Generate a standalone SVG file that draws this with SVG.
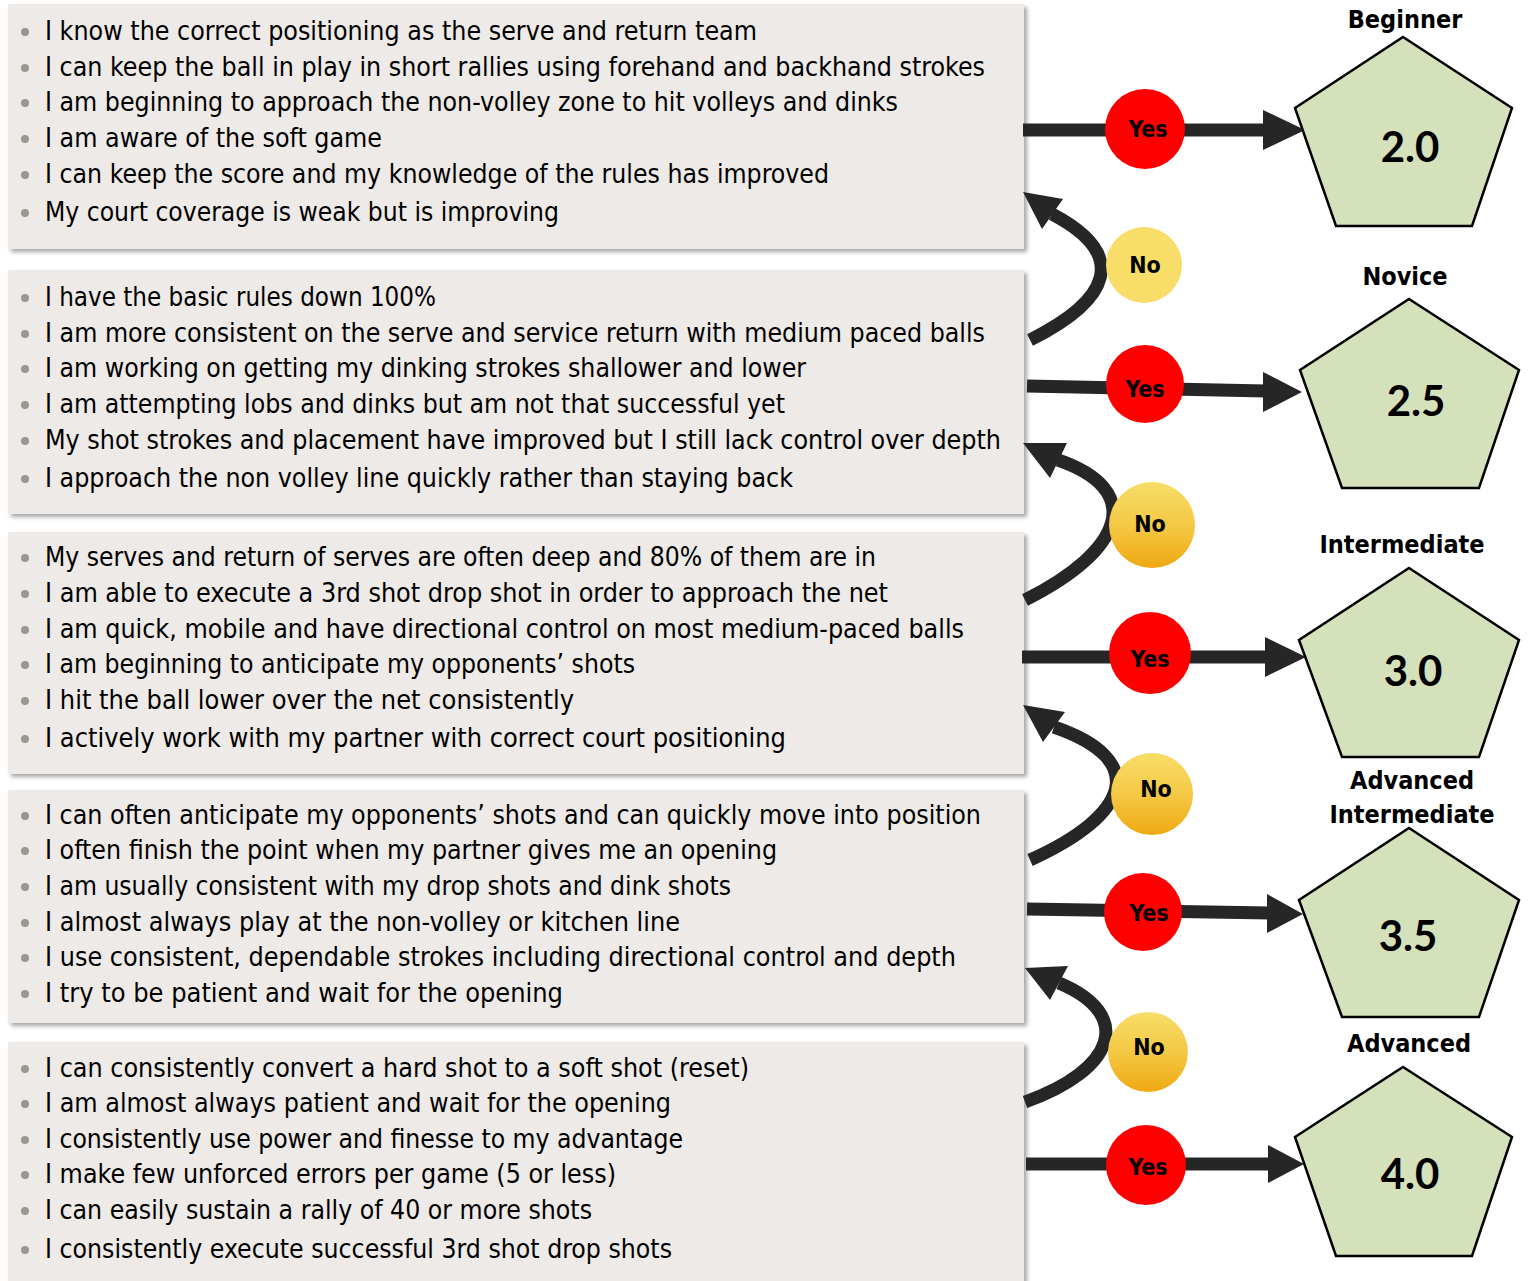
<svg xmlns="http://www.w3.org/2000/svg" width="1530" height="1281" viewBox="0 0 1530 1281">
<defs>
<filter id="sh" x="-5%" y="-5%" width="110%" height="115%">
<feDropShadow dx="3" dy="3" stdDeviation="2" flood-color="#000" flood-opacity="0.35"/>
</filter>
<linearGradient id="gold" x1="0" y1="0" x2="0" y2="1">
<stop offset="0" stop-color="#f8dd68"/>
<stop offset="0.5" stop-color="#f4c945"/>
<stop offset="1" stop-color="#efa812"/>
</linearGradient>
</defs>
<style>
.box{fill:#edeae7;filter:url(#sh)}
.t{font-family:"DejaVu Sans Condensed","DejaVu Sans",sans-serif;font-size:26px;fill:#000}
.b{fill:#9b968f}
.ln{fill:none;stroke:#262626;stroke-width:13}
.hd{fill:#262626}
.yes{fill:#ff0000}
.no1{fill:#f8dd68}
.no{fill:url(#gold)}
.ct{font-family:"DejaVu Sans Condensed","DejaVu Sans",sans-serif;font-size:23px;font-weight:bold;fill:#000;text-anchor:middle}
.pg{fill:#d5e1bb;stroke:#000;stroke-width:2.5;stroke-linejoin:miter}
.num{font-family:Lato,"DejaVu Sans",sans-serif;font-size:42px;font-weight:bold;fill:#000;text-anchor:middle}
.lv{font-family:"DejaVu Sans Condensed","DejaVu Sans",sans-serif;font-size:25px;font-weight:bold;fill:#000;text-anchor:middle}
</style>

<g id="box1">
<rect class="box" x="8" y="4" width="1016" height="245"/>
<circle class="b" cx="25" cy="32" r="4"/><text class="t" x="45" y="40" textLength="712" lengthAdjust="spacingAndGlyphs">I know the correct positioning as the serve and return team</text>
<circle class="b" cx="25" cy="68" r="4"/><text class="t" x="45" y="76" textLength="940" lengthAdjust="spacingAndGlyphs">I can keep the ball in play in short rallies using forehand and backhand strokes</text>
<circle class="b" cx="25" cy="103" r="4"/><text class="t" x="45" y="111" textLength="853" lengthAdjust="spacingAndGlyphs">I am beginning to approach the non-volley zone to hit volleys and dinks</text>
<circle class="b" cx="25" cy="139" r="4"/><text class="t" x="45" y="147" textLength="337" lengthAdjust="spacingAndGlyphs">I am aware of the soft game</text>
<circle class="b" cx="25" cy="175" r="4"/><text class="t" x="45" y="183" textLength="784" lengthAdjust="spacingAndGlyphs">I can keep the score and my knowledge of the rules has improved</text>
<circle class="b" cx="25" cy="213" r="4"/><text class="t" x="45" y="221" textLength="514" lengthAdjust="spacingAndGlyphs">My court coverage is weak but is improving</text>
</g>

<g id="box2">
<rect class="box" x="8" y="270" width="1016" height="244"/>
<circle class="b" cx="25" cy="298" r="4"/><text class="t" x="45" y="306" textLength="391" lengthAdjust="spacingAndGlyphs">I have the basic rules down 100%</text>
<circle class="b" cx="25" cy="334" r="4"/><text class="t" x="45" y="342" textLength="940" lengthAdjust="spacingAndGlyphs">I am more consistent on the serve and service return with medium paced balls</text>
<circle class="b" cx="25" cy="369" r="4"/><text class="t" x="45" y="377" textLength="761" lengthAdjust="spacingAndGlyphs">I am working on getting my dinking strokes shallower and lower</text>
<circle class="b" cx="25" cy="405" r="4"/><text class="t" x="45" y="413" textLength="740" lengthAdjust="spacingAndGlyphs">I am attempting lobs and dinks but am not that successful yet</text>
<circle class="b" cx="25" cy="441" r="4"/><text class="t" x="45" y="449" textLength="956" lengthAdjust="spacingAndGlyphs">My shot strokes and placement have improved but I still lack control over depth</text>
<circle class="b" cx="25" cy="479" r="4"/><text class="t" x="45" y="487" textLength="748" lengthAdjust="spacingAndGlyphs">I approach the non volley line quickly rather than staying back</text>
</g>

<g id="box3">
<rect class="box" x="8" y="532" width="1016" height="242"/>
<circle class="b" cx="25" cy="558" r="4"/><text class="t" x="45" y="566" textLength="831" lengthAdjust="spacingAndGlyphs">My serves and return of serves are often deep and 80% of them are in</text>
<circle class="b" cx="25" cy="594" r="4"/><text class="t" x="45" y="602" textLength="843" lengthAdjust="spacingAndGlyphs">I am able to execute a 3rd shot drop shot in order to approach the net</text>
<circle class="b" cx="25" cy="630" r="4"/><text class="t" x="45" y="638" textLength="919" lengthAdjust="spacingAndGlyphs">I am quick, mobile and have directional control on most medium-paced balls</text>
<circle class="b" cx="25" cy="665" r="4"/><text class="t" x="45" y="673" textLength="590" lengthAdjust="spacingAndGlyphs">I am beginning to anticipate my opponents’ shots</text>
<circle class="b" cx="25" cy="701" r="4"/><text class="t" x="45" y="709" textLength="529" lengthAdjust="spacingAndGlyphs">I hit the ball lower over the net consistently</text>
<circle class="b" cx="25" cy="739" r="4"/><text class="t" x="45" y="747" textLength="741" lengthAdjust="spacingAndGlyphs">I actively work with my partner with correct court positioning</text>
</g>

<g id="box4">
<rect class="box" x="8" y="790" width="1016" height="233"/>
<circle class="b" cx="25" cy="816" r="4"/><text class="t" x="45" y="824" textLength="936" lengthAdjust="spacingAndGlyphs">I can often anticipate my opponents’ shots and can quickly move into position</text>
<circle class="b" cx="25" cy="851" r="4"/><text class="t" x="45" y="859" textLength="732" lengthAdjust="spacingAndGlyphs">I often finish the point when my partner gives me an opening</text>
<circle class="b" cx="25" cy="887" r="4"/><text class="t" x="45" y="895" textLength="686" lengthAdjust="spacingAndGlyphs">I am usually consistent with my drop shots and dink shots</text>
<circle class="b" cx="25" cy="923" r="4"/><text class="t" x="45" y="931" textLength="635" lengthAdjust="spacingAndGlyphs">I almost always play at the non-volley or kitchen line</text>
<circle class="b" cx="25" cy="958" r="4"/><text class="t" x="45" y="966" textLength="911" lengthAdjust="spacingAndGlyphs">I use consistent, dependable strokes including directional control and depth</text>
<circle class="b" cx="25" cy="994" r="4"/><text class="t" x="45" y="1002" textLength="518" lengthAdjust="spacingAndGlyphs">I try to be patient and wait for the opening</text>
</g>

<g id="box5">
<rect class="box" x="8" y="1042" width="1016" height="250"/>
<circle class="b" cx="25" cy="1069" r="4"/><text class="t" x="45" y="1077" textLength="704" lengthAdjust="spacingAndGlyphs">I can consistently convert a hard shot to a soft shot (reset)</text>
<circle class="b" cx="25" cy="1104" r="4"/><text class="t" x="45" y="1112" textLength="626" lengthAdjust="spacingAndGlyphs">I am almost always patient and wait for the opening</text>
<circle class="b" cx="25" cy="1140" r="4"/><text class="t" x="45" y="1148" textLength="638" lengthAdjust="spacingAndGlyphs">I consistently use power and finesse to my advantage</text>
<circle class="b" cx="25" cy="1175" r="4"/><text class="t" x="45" y="1183" textLength="571" lengthAdjust="spacingAndGlyphs">I make few unforced errors per game (5 or less)</text>
<circle class="b" cx="25" cy="1211" r="4"/><text class="t" x="45" y="1219" textLength="547" lengthAdjust="spacingAndGlyphs">I can easily sustain a rally of 40 or more shots</text>
<circle class="b" cx="25" cy="1250" r="4"/><text class="t" x="45" y="1258" textLength="627" lengthAdjust="spacingAndGlyphs">I consistently execute successful 3rd shot drop shots</text>
</g>

<g id="connectors">
<path class="ln" d="M1023,130 H1268"/>
<polygon class="hd" points="1263,110 1305,130 1263,150"/>
<path class="ln" d="M1027,386 L1266,391"/>
<polygon class="hd" points="1263,372 1302,392 1263,412"/>
<path class="ln" d="M1022,657 H1268"/>
<polygon class="hd" points="1265,637 1306,657 1265,677"/>
<path class="ln" d="M1027,909 L1270,913"/>
<polygon class="hd" points="1267,894 1303,914 1267,933"/>
<path class="ln" d="M1026,1164 H1270"/>
<polygon class="hd" points="1268,1145 1304,1164 1268,1183"/>

<path class="ln" d="M1030,340 C1110,300 1130,255 1052,214"/>
<polygon class="hd" points="1023,192 1063,199 1042,229"/>
<path class="ln" d="M1025,600 C1125,550 1145,490 1058,460"/>
<polygon class="hd" points="1023,443 1067,443 1050,478"/>
<path class="ln" d="M1030,860 C1130,815 1150,760 1054,727"/>
<polygon class="hd" points="1023,705 1065,712 1043,742"/>
<path class="ln" d="M1025,1102 C1115,1070 1135,1015 1059,983"/>
<polygon class="hd" points="1025,968 1068,966 1050,1000"/>
</g>

<g id="yes1"><circle class="yes" cx="1145" cy="129" r="40"/><text class="ct" x="1148" y="137">Yes</text></g>
<g id="yes2"><circle class="yes" cx="1145" cy="384" r="39"/><text class="ct" x="1145" y="397">Yes</text></g>
<g id="yes3"><circle class="yes" cx="1150" cy="653" r="41"/><text class="ct" x="1150" y="667">Yes</text></g>
<g id="yes4"><circle class="yes" cx="1143" cy="912" r="39"/><text class="ct" x="1149" y="921">Yes</text></g>
<g id="yes5"><circle class="yes" cx="1146" cy="1165" r="40"/><text class="ct" x="1148" y="1175">Yes</text></g>

<g id="no1"><circle class="no1" cx="1144" cy="265" r="38"/><text class="ct" x="1145" y="273">No</text></g>
<g id="no2"><circle class="no" cx="1152" cy="525" r="43"/><text class="ct" x="1150" y="532">No</text></g>
<g id="no3"><circle class="no" cx="1152" cy="794" r="41"/><text class="ct" x="1156" y="797">No</text></g>
<g id="no4"><circle class="no" cx="1148" cy="1052" r="40"/><text class="ct" x="1149" y="1055">No</text></g>

<g id="level1">
<text class="lv" x="1405" y="28">Beginner</text>
<polygon class="pg" points="1403,37 1512,108 1472,226 1336,226 1295,108"/>
<text class="num" x="1410" y="162">2.0</text>
</g>
<g id="level2">
<text class="lv" x="1405" y="285">Novice</text>
<polygon class="pg" points="1409,299 1519,370 1479,488 1342,488 1300,370"/>
<text class="num" x="1416" y="416">2.5</text>
</g>
<g id="level3">
<text class="lv" x="1402" y="553">Intermediate</text>
<polygon class="pg" points="1409,568 1519,640 1479,757 1342,757 1299,640"/>
<text class="num" x="1413" y="686">3.0</text>
</g>
<g id="level4">
<text class="lv" x="1412" y="789">Advanced</text>
<text class="lv" x="1412" y="823">Intermediate</text>
<polygon class="pg" points="1409,828 1519,900 1479,1017 1342,1017 1299,900"/>
<text class="num" x="1408" y="951">3.5</text>
</g>
<g id="level5">
<text class="lv" x="1409" y="1052">Advanced</text>
<polygon class="pg" points="1403,1067 1512,1137 1472,1256 1336,1256 1295,1137"/>
<text class="num" x="1410" y="1189">4.0</text>
</g>
</svg>
